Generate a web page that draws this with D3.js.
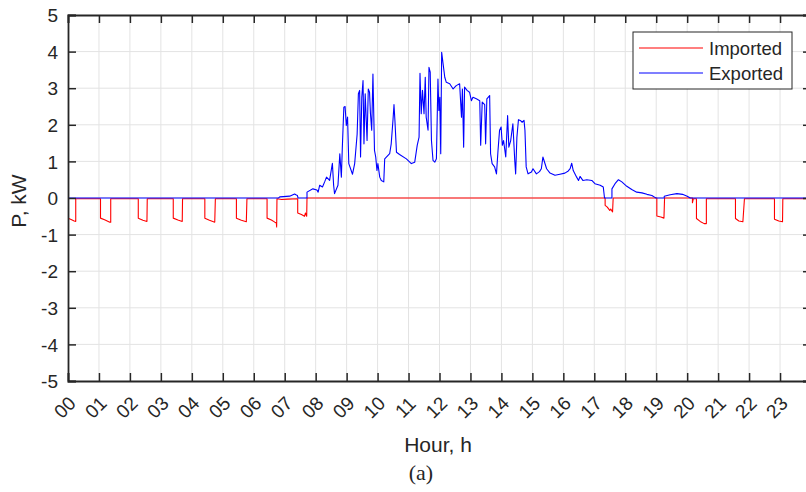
<!DOCTYPE html>
<html>
<head>
<meta charset="utf-8">
<script src="https://cdn.jsdelivr.net/npm/d3@7"></script>
<style>
  body { margin: 0; background: #fff; }
  text { font-family: "Liberation Sans", Arial, Helvetica, sans-serif; fill: #262626; }
  .grid line { stroke: #e3e3e3; stroke-width: 1; }
  .axis path, .axis line { stroke: #262626; }
  .line { fill: none; stroke-width: 1.1; stroke-linejoin: round; }
  .imported { stroke: #ff0000; }
  .exported { stroke: #0000ff; }
</style>
</head>
<body>
<div id="graph"></div>
<script>

// x tick labels
var hourLabels = d3.range(0, 24).map(function(h) { return (h < 10 ? "0" : "") + h; });
var kwTicks = d3.range(-5, 6);

// imported power (hour, kW)
var importedHours = [0, 0.1, 0.2, 0.25, 0.25, 1.05, 1.05, 1.2, 1.35, 1.38, 1.38,
  2.27, 2.27, 2.42, 2.55, 2.56, 3.4, 3.4, 3.55, 3.69, 3.7, 4.42, 4.42, 4.57, 4.74, 4.76,
  5.44, 5.44, 5.6, 5.76, 5.78, 6.43, 6.43, 6.57, 6.68, 6.73, 6.74, 6.75, 6.9, 7.1,
  7.42, 7.42, 7.54, 7.64, 7.67, 7.71, 7.72, 17.35, 17.35, 17.42, 17.5, 17.53, 17.59, 17.61,
  19.02, 19.02, 19.15, 19.25, 19.27, 20.17, 20.17, 20.2, 20.3, 20.3, 20.42, 20.55, 20.62, 20.62,
  21.56, 21.56, 21.67, 21.8, 21.85, 22.82, 22.82, 22.96, 23.08, 23.09, 24];
var importedKW = [-0.55, -0.59, -0.63, -0.64, -0.02, -0.02, -0.55, -0.6, -0.66, -0.66, -0.02,
  -0.02, -0.55, -0.61, -0.64, -0.02, -0.02, -0.55, -0.6, -0.64, -0.02, -0.02, -0.55, -0.61, -0.66, -0.02,
  -0.02, -0.55, -0.61, -0.65, -0.02, -0.02, -0.55, -0.6, -0.66, -0.68, -0.79, -0.02, -0.04, -0.03,
  -0.02, -0.41, -0.45, -0.5, -0.41, -0.5, 0, 0, -0.2, -0.25, -0.34, -0.3, -0.38, 0,
  0, -0.49, -0.52, -0.55, 0, 0, -0.13, -0.02, -0.02, -0.56, -0.64, -0.7, -0.7, -0.02,
  -0.02, -0.56, -0.63, -0.65, -0.02, -0.02, -0.58, -0.63, -0.65, -0.02, -0.02];

// exported power (hour, kW)
var exportedHours = [0, 6.8, 6.84, 7.16, 7.32, 7.36, 7.41, 7.43, 7.72, 7.72,
  7.91, 8.04, 8.08, 8.13, 8.22, 8.29, 8.35, 8.45, 8.54, 8.58, 8.61, 8.72, 8.78, 8.83, 8.86,
  8.91, 8.95, 8.99, 9.03, 9.07, 9.19, 9.26, 9.34, 9.38, 9.42, 9.45, 9.49, 9.53, 9.56, 9.6,
  9.66, 9.7, 9.74, 9.77, 9.81, 9.85, 9.9, 9.94, 9.98, 10.01, 10.07, 10.12, 10.2, 10.23,
  10.39, 10.44, 10.5, 10.53, 10.56, 10.61, 10.71, 10.93, 11.09, 11.2, 11.28, 11.34, 11.37,
  11.41, 11.45, 11.5, 11.54, 11.57, 11.63, 11.66, 11.7, 11.74, 11.79, 11.85, 11.9, 11.95,
  11.98, 12.01, 12.04, 12.07, 12.11, 12.17, 12.22, 12.33, 12.44, 12.54, 12.65, 12.71, 12.74,
  12.78, 12.81, 12.89, 12.97, 13.03, 13.08, 13.19, 13.3, 13.33, 13.38, 13.46, 13.49, 13.53,
  13.62, 13.65, 13.7, 13.78, 13.84, 13.89, 13.94, 13.99, 14.03, 14.07, 14.14, 14.2, 14.24,
  14.3, 14.37, 14.43, 14.46, 14.5, 14.55, 14.61, 14.67, 14.73, 14.76, 14.8, 14.86, 14.97,
  15.02, 15.13, 15.23, 15.29, 15.34, 15.46, 15.57, 15.73, 15.89, 16.05, 16.16, 16.22, 16.27,
  16.32, 16.43, 16.49, 16.54, 16.63, 16.76, 16.92, 17.02, 17.19, 17.29, 17.33, 17.57, 17.57,
  17.67, 17.78, 17.89, 18.05, 18.21, 18.37, 18.54, 18.7, 18.86, 18.97, 19.0, 19.26, 19.26,
  19.45, 19.67, 19.85, 20.0, 20.1, 24];
var exportedKW = [0, 0, 0.03, 0.05, 0.11, 0.09, 0.07, 0, 0, 0.16,
  0.25, 0.22, 0.16, 0.35, 0.3, 0.44, 0.57, 0.48, 0.95, 0.35, 0.12, 0.35, 1.21, 0.57, 1.35,
  2.48, 2.5, 1.98, 2.21, 0.94, 0.65, 0.94, 1.75, 2.85, 2.94, 1.12, 2.75, 3.21, 1.48, 2.85,
  1.57, 2.98, 2.89, 2.3, 1.85, 3.39, 1.3, 1.12, 0.75, 0.94, 0.57, 0.48, 0.44, 1.07,
  1.21, 1.48, 2.16, 2.55, 2.12, 1.25, 1.19, 1.07, 0.94, 0.98, 1.44, 1.66, 3.41,
  2.3, 2.94, 2.3, 3.3, 2.21, 1.85, 3.57, 3.44, 1.57, 1.03, 0.98, 1.07, 3.25,
  2.39, 2.75, 1.21, 3.98, 3.71, 3.3, 3.16, 3.12, 2.98, 3.07, 3.12, 2.21, 2.98,
  1.39, 3.03, 2.94, 2.89, 2.66, 2.75, 2.71, 2.66, 1.44, 2.62, 2.55, 1.48, 2.71,
  2.8, 1.21, 0.94, 0.85, 0.66, 1.3, 1.85, 1.94, 1.44, 1.57, 1.12, 2.25, 1.39,
  1.57, 2.03, 1.03, 0.66, 1.66, 2.14, 2.12, 2.07, 2.12, 1.85, 0.85, 0.66, 0.71,
  0.8, 0.66, 0.72, 0.8, 1.12, 0.8, 0.68, 0.62, 0.65, 0.68, 0.74, 0.8, 0.95,
  0.75, 0.57, 0.48, 0.59, 0.48, 0.5, 0.48, 0.39, 0.35, 0.3, 0, 0, 0.25,
  0.39, 0.5, 0.44, 0.32, 0.23, 0.16, 0.14, 0.1, 0.07, 0.01, 0, 0, 0.05,
  0.09, 0.12, 0.1, 0.05, 0, 0];

var svgWidth = 806, svgHeight = 492;
var margin = {top: 15, right: -5, bottom: 111, left: 68},
    width = svgWidth - margin.left - margin.right,
    height = svgHeight - margin.top - margin.bottom;

var x = d3.scaleLinear().domain([0, 24]).range([0, width]);
var y = d3.scaleLinear().domain([-5, 5]).range([height, 0]);

var svg = d3.select("#graph").append("svg")
    .attr("width", svgWidth)
    .attr("height", svgHeight)
  .append("g")
    .attr("transform", "translate(" + margin.left + "," + margin.top + ")");

svg.append("defs").append("clipPath")
    .attr("id", "plotclip")
  .append("rect")
    .attr("width", width)
    .attr("height", height);

// grid
var grid = svg.append("g").attr("class", "grid");
grid.selectAll("line.v")
  .data(d3.range(1, 24))
  .enter().append("line")
    .attr("class", "v")
    .attr("x1", function(d) { return x(d); })
    .attr("x2", function(d) { return x(d); })
    .attr("y1", 0)
    .attr("y2", height);
grid.selectAll("line.h")
  .data(kwTicks.slice(1, -1))
  .enter().append("line")
    .attr("class", "h")
    .attr("x1", 0)
    .attr("x2", width)
    .attr("y1", function(d) { return y(d); })
    .attr("y2", function(d) { return y(d); });

var line = d3.line()
  .x(function(d) { return x(d[0]); })
  .y(function(d) { return y(d[1]); });

var imported = d3.zip(importedHours, importedKW);
var exported = d3.zip(exportedHours, exportedKW);

var plot = svg.append("g").attr("clip-path", "url(#plotclip)");

plot.append("path")
  .datum(imported)
  .attr("class", "line imported")
  .attr("d", line);

plot.append("path")
  .datum(exported)
  .attr("class", "line exported")
  .attr("d", line);

// axes, ticks pointing inward on all four sides
var tickLen = 8;
var xaxis = d3.axisBottom(x).tickValues(d3.range(0, 24)).tickSize(-tickLen).tickFormat(function(d) { return hourLabels[d]; });
var xaxisTop = d3.axisTop(x).tickValues(d3.range(0, 24)).tickSize(-tickLen).tickFormat("");
var yaxis = d3.axisLeft(y).tickValues(kwTicks).tickSize(-tickLen).tickPadding(10)
  .tickFormat(function(d) { return String(d); });
var yaxisRight = d3.axisRight(y).tickValues(kwTicks).tickSize(-tickLen).tickFormat("");

var gx = svg.append("g")
  .attr("class", "axis")
  .attr("transform", "translate(0," + height + ")")
  .call(xaxis);
gx.selectAll("text")
  .attr("y", 0)
  .attr("dy", 0)
  .style("text-anchor", "middle")
  .attr("transform", "translate(1,31) rotate(-45)");

svg.append("g").attr("class", "axis").call(xaxisTop);
var gy = svg.append("g").attr("class", "axis").call(yaxis);
svg.append("g").attr("class", "axis").attr("transform", "translate(" + width + ",0)").call(yaxisRight);

svg.selectAll(".axis path").attr("stroke-width", 1.8).attr("fill", "none");
svg.selectAll(".axis line").attr("stroke-width", 1.5);
svg.selectAll(".axis text").style("font-size", "19px").style("font-family", null).attr("fill", "#262626");
gy.selectAll("text").attr("dy", "0.35em");

// axis labels
svg.append("text")
  .attr("transform", "translate(" + (26 - margin.left) + "," + (201 - margin.top) + ") rotate(-90)")
  .style("text-anchor", "middle")
  .style("font-size", "21px")
  .text("P, kW");

svg.append("text")
  .attr("x", 438 - margin.left)
  .attr("y", 452 - margin.top)
  .style("text-anchor", "middle")
  .style("font-size", "21px")
  .text("Hour, h");

svg.append("text")
  .attr("x", 421 - margin.left)
  .attr("y", 480 - margin.top)
  .style("text-anchor", "middle")
  .style("font-size", "22px")
  .style("font-family", "'Liberation Serif', 'Times New Roman', serif")
  .text("(a)");

// legend
var legendItems = [{name: "Imported", cls: "imported"}, {name: "Exported", cls: "exported"}];
var legend = svg.append("g")
  .attr("transform", "translate(" + (633 - margin.left) + "," + (32 - margin.top) + ")");

legend.append("rect")
  .attr("width", 159)
  .attr("height", 57)
  .attr("fill", "#fff")
  .attr("stroke", "#262626")
  .attr("stroke-width", 1);

legend.selectAll("line.item")
  .data(legendItems)
  .enter().append("line")
    .attr("class", function(d) { return "item line " + d.cls; })
    .attr("x1", 6)
    .attr("x2", 70)
    .attr("y1", function(d, i) { return 16 + i * 25; })
    .attr("y2", function(d, i) { return 16 + i * 25; });

legend.selectAll("text")
  .data(legendItems)
  .enter().append("text")
    .attr("x", 76)
    .attr("y", function(d, i) { return 23 + i * 25; })
    .style("font-size", "18.5px")
    .text(function(d) { return d.name; });

</script>
</body>
</html>
